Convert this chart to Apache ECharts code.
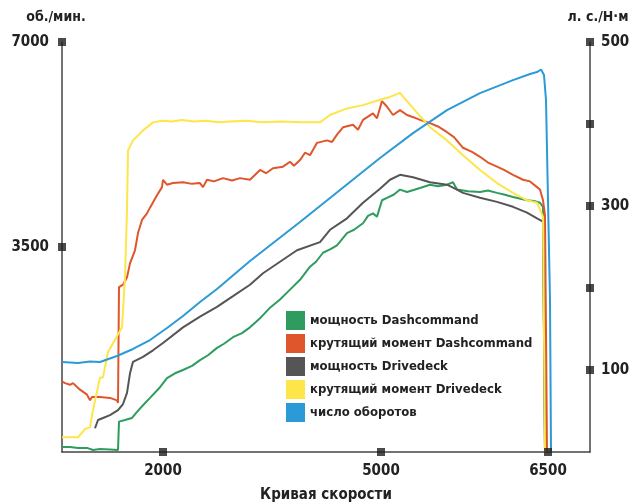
<!DOCTYPE html>
<html>
<head>
<meta charset="utf-8">
<script src="https://cdn.jsdelivr.net/npm/echarts@6/dist/echarts.min.js"></script>
<style>html,body{margin:0;padding:0;background:#fff;}#chart{width:633px;height:502px;}</style>
</head>
<body>
<div id="chart"></div>
<script>
// Time axis (arbitrary sample units), labelled by engine speed at given moments
const xMax = 264;
const xTickTimes = [50.5, 159.5, 243];
const xTickLabels = ['2000', '5000', '6500'];
const leftTicks = [3500, 7000];
const rightTicks = [100, 200, 300, 400, 500];
const rightLabelled = [100, 300, 500];

const seriesNames = ['мощность Dashcommand', 'крутящий момент Dashcommand', 'мощность Drivedeck', 'крутящий момент Drivedeck', 'число оборотов'];

// мощность Dashcommand (л. с.)
const greenT = [0, 4, 8, 12.5, 15.5, 19, 24, 28, 28.5, 31.5, 35, 37.5, 40.5, 44, 49, 52.5, 56.5, 60.5, 65, 69, 73, 77.5, 81, 85.5, 90, 94, 99, 104, 109, 114, 119, 124, 127, 130.5, 134, 137.5, 142.5, 146, 150.5, 153, 155.5, 157.5, 160, 162.5, 166, 169, 172.5, 179, 184, 188, 192.5, 195.5, 197.5, 203, 209, 213, 217.5, 221, 225.5, 232.5, 236, 239, 240.5, 241.5];
const greenV = [6, 6, 5, 5, 2.4, 3.7, 3, 2.4, 37, 39, 41.5, 49, 57, 66, 79, 90, 96, 100, 105, 112, 118, 127, 132, 140, 145, 152, 163, 176, 186, 198, 210, 226, 232, 243, 247, 252, 267, 271, 279, 288, 291, 287, 307, 310, 314, 320, 317, 322, 326, 324, 326, 329, 320, 318, 317, 319, 316, 314, 311, 307, 306, 304, 299, 0];

// крутящий момент Dashcommand (Н·м)
const redT = [0, 1.5, 4, 5.5, 9, 12.5, 14, 15, 19, 24, 27.5, 28, 28.5, 30.5, 32.5, 34, 36.5, 38, 40, 42.5, 44, 47.5, 50, 50.5, 52.5, 55.5, 60.5, 65, 69, 70.5, 72.5, 76, 80.5, 85, 89, 94, 99, 102, 105.5, 110.5, 114, 116, 119, 121.5, 124, 127.5, 132.5, 135, 137.5, 140.5, 145.5, 148, 150.5, 155.5, 157.5, 160, 162.5, 165.5, 169, 172.5, 176, 179, 184, 188, 192.5, 196, 200.5, 205, 209, 213, 217.5, 221, 225.5, 230.5, 234, 237.5, 239, 240.5, 241.5, 242.5];
const redV = [86, 84, 82, 84, 76, 70, 63, 67, 67, 66, 63, 60, 201, 204, 213, 230, 246, 267, 283, 291, 298, 313, 323, 332, 326, 328, 329, 327, 328, 323, 332, 330, 334, 331, 334, 332, 344, 340, 346, 348, 354, 349, 356, 365, 362, 377, 380, 378, 387, 396, 399, 393, 405, 413, 407, 428, 421, 411, 417, 411, 408, 405, 401, 397, 390, 384, 371, 366, 360, 353, 348, 344, 338, 332, 330, 323, 320, 307, 289, 0];

// мощность Drivedeck (л. с.)
const grayT = [16.5, 18, 20.5, 24, 28, 30.5, 32.5, 34, 35.5, 40.5, 45.5, 50.5, 60.5, 69, 77.5, 85.5, 94, 100.5, 109, 117.5, 129, 134, 142.5, 150.5, 159, 164, 169, 175.5, 184, 192.5, 197.5, 200.5, 209, 217.5, 225.5, 232.5, 237.5, 240.5, 241.5];
const grayV = [29, 39, 41.5, 45, 51, 58.5, 72, 96, 110, 116, 124, 133, 152, 165, 177, 190, 204, 218, 232, 246, 256, 271, 285, 304, 321, 332, 338, 335, 329, 326, 320, 316, 310, 305, 299, 292, 285, 281, 0];

// крутящий момент Drivedeck (Н·м)
const yellowT = [0, 8, 11.5, 14, 15.5, 19, 20.5, 23, 26.5, 30, 31.5, 32.5, 33, 35.5, 40.5, 45.5, 50, 55, 60, 66, 72, 78, 84, 92, 100, 110, 120, 129, 134, 142.5, 150.5, 157, 164, 169, 170, 177, 184, 192.5, 200.5, 209, 217.5, 225.5, 232.5, 237.5, 240.5, 241.5];
const yellowV = [18, 18, 28, 30, 51, 91, 91, 122, 137, 152, 213, 295, 368, 380, 392, 402, 404, 403, 405, 403, 404, 402, 403, 404, 402, 403, 402, 402, 411, 419, 423, 428, 433, 438, 435, 415, 396, 380, 362, 344, 328, 316, 307, 304, 287, 0];

// число оборотов (об./мин.)
const blueT = [0, 8, 14, 19, 27.5, 35.5, 44, 52.5, 60.5, 69, 77.5, 94, 119, 144, 159, 175.5, 192.5, 209, 225.5, 234, 237.5, 239.5, 241, 242, 243, 244, 244.5];
const blueV = [1536, 1520, 1545, 1536, 1639, 1759, 1912, 2117, 2322, 2561, 2783, 3261, 3926, 4609, 5019, 5445, 5838, 6128, 6350, 6453, 6487, 6530, 6436, 6009, 4302, 2595, 0];

const colors = ['#2f9c5f', '#e0562c', '#555555', '#fde54a', '#2b9ad6'];

function zip(t, v) { return t.map((x, i) => [x, v[i]]); }

const FONT = '"DejaVu Sans Condensed", "DejaVu Sans", sans-serif';
const txt = { color: '#222', fontWeight: 'bold', fontFamily: FONT, fontSize: 15 };

const lineData = [
  { d: zip(greenT, greenV), axis: 1 },
  { d: zip(redT, redV), axis: 1 },
  { d: zip(grayT, grayV), axis: 1 },
  { d: zip(yellowT, yellowV), axis: 1 },
  { d: zip(blueT, blueV), axis: 0 }
];

const series = lineData.map((s, i) => ({
  name: seriesNames[i],
  type: 'line',
  yAxisIndex: s.axis,
  data: s.d,
  showSymbol: false,
  symbol: 'none',
  lineStyle: { width: 2, color: colors[i] },
  itemStyle: { color: colors[i] },
  z: 3
}));

const sq = { type: 'scatter', symbol: 'rect', symbolSize: 8, silent: true, clip: false, itemStyle: { color: '#1e1e1e' }, z: 10 };
series.push(Object.assign({}, sq, { yAxisIndex: 0, data: leftTicks.map(v => [0, v]) }));
series.push(Object.assign({}, sq, { yAxisIndex: 1, data: rightTicks.map(v => [xMax, v]) }));
series.push(Object.assign({}, sq, { yAxisIndex: 0, data: xTickTimes.map(t => [t, 0]) }));

const axisLine = { show: true, lineStyle: { color: '#444', width: 1.5 } };

const option = {
  backgroundColor: '#fff',
  animation: false,
  grid: { left: 62, right: 43, top: 42, bottom: 50, containLabel: false, outerBoundsMode: 'none' },
  legend: {
    data: seriesNames,
    orient: 'vertical',
    left: 281,
    top: 306,
    icon: 'rect',
    itemWidth: 19,
    itemHeight: 19,
    itemGap: 4,
    textStyle: Object.assign({}, txt, { fontSize: 13 })
  },
  xAxis: {
    type: 'value', min: 0, max: xMax,
    axisLine: axisLine,
    axisTick: { show: false },
    splitLine: { show: false },
    axisLabel: Object.assign({}, txt, {
      customValues: xTickTimes,
      margin: 12,
      formatter: function (v) { const i = xTickTimes.indexOf(v); return i >= 0 ? xTickLabels[i] : ''; }
    }),
    name: 'Кривая скорости',
    nameLocation: 'middle',
    nameGap: 36,
    nameTextStyle: Object.assign({}, txt, { fontSize: 15 })
  },
  yAxis: [
    {
      type: 'value', min: 0, max: 7000, interval: 3500,
      axisLine: axisLine, axisTick: { show: false }, splitLine: { show: false },
      axisLabel: Object.assign({}, txt, { margin: 13, formatter: v => (leftTicks.indexOf(v) >= 0 ? String(v) : '') }),
      name: 'об./мин.', nameLocation: 'end', nameGap: 18,
      nameTextStyle: Object.assign({}, txt, { fontSize: 14, align: 'center', padding: [0, 12, 0, 0] })
    },
    {
      type: 'value', min: 0, max: 500, interval: 100, position: 'right',
      axisLine: axisLine, axisTick: { show: false }, splitLine: { show: false },
      axisLabel: Object.assign({}, txt, { margin: 11, formatter: v => (rightLabelled.indexOf(v) >= 0 ? String(v) : '') }),
      name: 'л. с./Н·м', nameLocation: 'end', nameGap: 18,
      nameTextStyle: Object.assign({}, txt, { fontSize: 14, align: 'center', padding: [0, 0, 0, 16] })
    }
  ],
  series: series
};

const chart = echarts.init(document.getElementById('chart'), null, { renderer: 'canvas' });
chart.setOption(option);
</script>
</body>
</html>
